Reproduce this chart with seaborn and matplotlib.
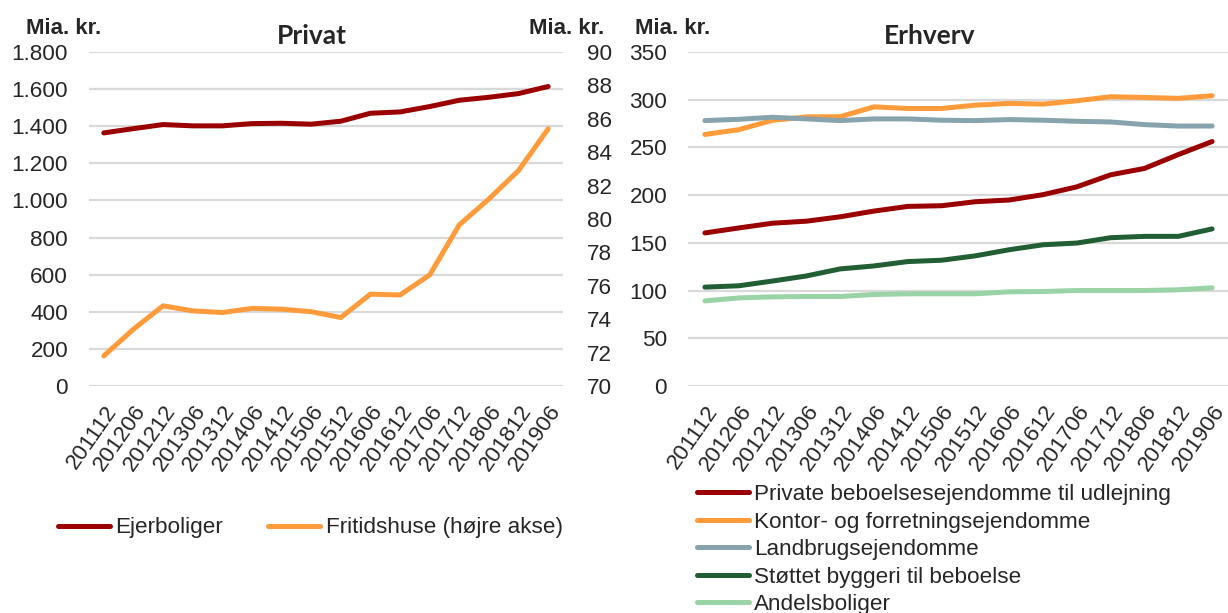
import numpy as np
import pandas as pd
import matplotlib
matplotlib.use('Agg')
import matplotlib.pyplot as plt
import matplotlib.ticker as mticker
import seaborn as sns

periods = ['201112', '201206', '201212', '201306', '201312', '201406', '201412', '201506',
           '201512', '201606', '201612', '201706', '201712', '201806', '201812', '201906']

# Privat
ejerboliger = [1364, 1387, 1409, 1402, 1402, 1414, 1416, 1411, 1427, 1470, 1477, 1506, 1540, 1556, 1576, 1614]
fritidshuse = [71.8, 73.4, 74.8, 74.5, 74.4, 74.65, 74.6, 74.45, 74.1, 75.5, 75.45, 76.65, 79.65, 81.2, 82.9, 85.4]

# Erhverv
private_udl = [160.4, 165.6, 170.6, 172.7, 177.3, 183.3, 188.2, 188.9, 193.1, 194.9, 200.5, 208.7, 221.3, 228.0, 242.5, 256.2]
kontor = [263.6, 268.6, 278.4, 282.0, 282.2, 292.5, 290.8, 290.8, 294.3, 296.1, 295.4, 298.9, 303.1, 302.4, 301.4, 304.2]
landbrug = [278.1, 279.5, 281.6, 279.9, 278.1, 279.9, 279.9, 278.5, 278.1, 279.2, 278.5, 277.4, 276.7, 273.9, 272.4, 272.4]
stottet = [103.6, 105.0, 110.0, 115.3, 122.7, 125.8, 130.4, 131.8, 136.4, 142.8, 148.0, 149.8, 155.4, 156.8, 156.8, 164.6]
andels = [89.2, 92.3, 93.4, 93.8, 93.8, 95.9, 96.6, 96.6, 96.6, 98.7, 99.0, 100.1, 100.1, 100.1, 100.8, 102.9]

erhverv_names = ['Private beboelsesejendomme til udlejning', 'Kontor- og forretningsejendomme',
                 'Landbrugsejendomme', 'Støttet byggeri til beboelse', 'Andelsboliger']
erhverv_vals = [private_udl, kontor, landbrug, stottet, andels]
erhverv_colors = ['#9B0000', '#FF9B3A', '#87A3AD', '#215E33', '#9AD3A6']

sns.set_style('white')
plt.rcParams['font.family'] = ['Liberation Sans', 'DejaVu Sans']
fs = 16.2

fig = plt.figure(figsize=(12.28, 6.13), dpi=100)
W, H = 1228, 613

def box(x0, x1, ytop, ybot):
    return [x0 / W, 1 - ybot / H, (x1 - x0) / W, (ybot - ytop) / H]

lw = 3.6
grid_c = '#D9D9D9'
title_font = dict(family=['Lato', 'DejaVu Sans'], fontweight='bold', fontsize=19)
unit_font = dict(family=['Liberation Sans', 'DejaVu Sans'], fontweight='bold', fontsize=16)

def style(ax):
    for s in ax.spines.values():
        s.set_visible(False)
    ax.set_xlim(-0.5, 15.5)
    ax.set_xticks(range(len(periods)))
    ax.set_xticklabels(periods, rotation=55, ha='right', rotation_mode='anchor', fontsize=fs)
    ax.tick_params(axis='x', length=0, pad=11)
    ax.tick_params(axis='y', length=0, pad=15, labelsize=fs)
    ax.yaxis.grid(True, color=grid_c, lw=1.6)
    ax.set_axisbelow(True)
    ax.set_xlabel('')
    ax.set_ylabel('')

# ---- Privat
ax1 = fig.add_axes(box(89, 563, 52, 386))
df_p = pd.DataFrame({'periode': periods, 'Ejerboliger': ejerboliger, 'Fritidshuse': fritidshuse})
sns.lineplot(data=df_p, x='periode', y='Ejerboliger', ax=ax1, color='#9B0000', lw=lw, sort=False)
ax1.set_ylim(0, 1800)
ax1.yaxis.set_major_locator(mticker.MultipleLocator(200))
ax1.yaxis.set_major_formatter(mticker.FuncFormatter(lambda v, p: f'{int(v):,}'.replace(',', '.')))
style(ax1)
ax1b = ax1.twinx()
sns.lineplot(data=df_p, x='periode', y='Fritidshuse', ax=ax1b, color='#FF9B3A', lw=lw, sort=False)
ax1b.set_ylim(70, 90)
ax1b.yaxis.set_major_locator(mticker.MultipleLocator(2))
for s in ax1b.spines.values():
    s.set_visible(False)
ax1b.tick_params(axis='y', length=0, pad=17, labelsize=fs)
ax1b.set_ylabel('')

fig.text(312 / W, 1 - 36 / H, 'Privat', ha='center', va='center', **title_font)
fig.text(26 / W, 1 - 28 / H, 'Mia. kr.', ha='left', va='center', **unit_font)
fig.text(529 / W, 1 - 28 / H, 'Mia. kr.', ha='left', va='center', **unit_font)

h1 = [plt.Line2D([], [], color='#9B0000', lw=lw, solid_capstyle='round'),
      plt.Line2D([], [], color='#FF9B3A', lw=lw, solid_capstyle='round')]
fig.legend(h1, ['Ejerboliger', 'Fritidshuse (højre akse)'], loc='center left',
           bbox_to_anchor=(58 / W, 1 - 528 / H), ncol=2, frameon=False, fontsize=fs,
           handlelength=2.3, handletextpad=0.25, columnspacing=2.0, borderpad=0, borderaxespad=0)

# ---- Erhverv
ax2 = fig.add_axes(box(688, 1229, 52, 386))
for name, vals, col in zip(erhverv_names, erhverv_vals, erhverv_colors):
    sns.lineplot(x=periods, y=vals, ax=ax2, color=col, lw=lw, sort=False)
ax2.set_ylim(0, 350)
ax2.yaxis.set_major_locator(mticker.MultipleLocator(50))
style(ax2)

fig.text(930 / W, 1 - 36 / H, 'Erhverv', ha='center', va='center', **title_font)
fig.text(635 / W, 1 - 28 / H, 'Mia. kr.', ha='left', va='center', **unit_font)

h2 = [plt.Line2D([], [], color=c, lw=lw, solid_capstyle='round') for c in erhverv_colors]
fig.legend(h2, erhverv_names, loc='upper left', bbox_to_anchor=(697 / W, 1 - 484 / H),
           frameon=False, fontsize=fs, handlelength=2.3, handletextpad=0.25,
           labelspacing=0.29, borderpad=0, borderaxespad=0)

fig.savefig('out.png', dpi=100)
